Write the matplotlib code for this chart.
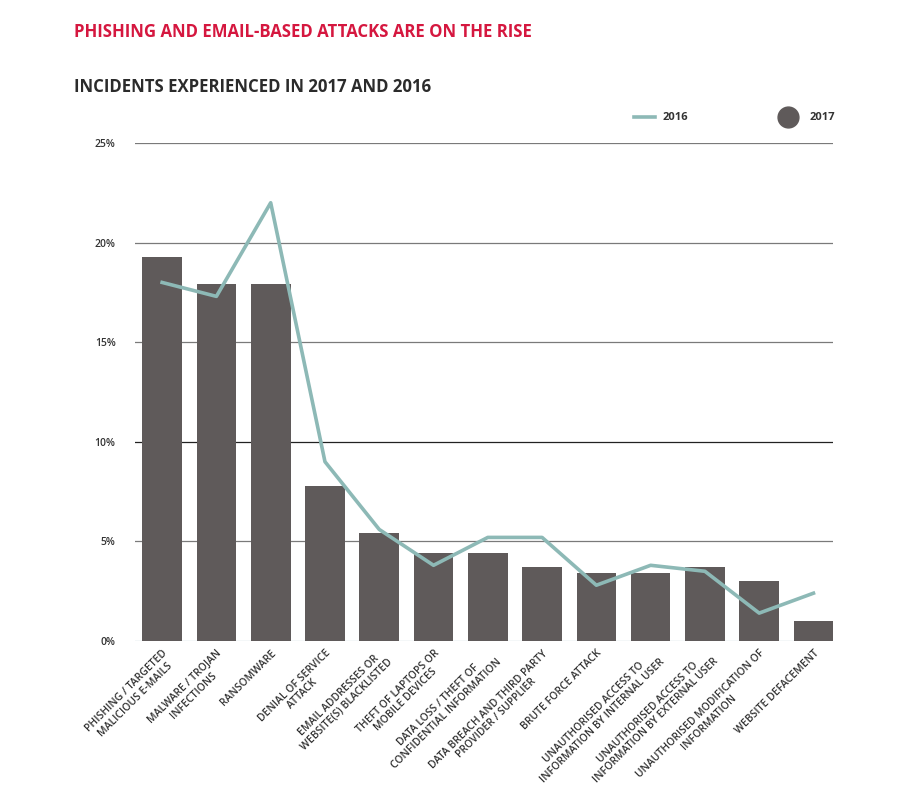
import matplotlib.pyplot as plt
from matplotlib.lines import Line2D

plt.rcParams['font.family'] = ['Open Sans', 'DejaVu Sans']

categories = [
    'PHISHING / TARGETED\nMALICIOUS E-MAILS',
    'MALWARE / TROJAN\nINFECTIONS',
    'RANSOMWARE',
    'DENIAL OF SERVICE\nATTACK',
    'EMAIL ADDRESSES OR\nWEBSITE(S) BLACKLISTED',
    'THEFT OF LAPTOPS OR\nMOBILE DEVICES',
    'DATA LOSS / THEFT OF\nCONFIDENTIAL INFORMATION',
    'DATA BREACH AND THIRD PARTY\nPROVIDER / SUPPLIER',
    'BRUTE FORCE ATTACK',
    'UNAUTHORISED ACCESS TO\nINFORMATION BY INTERNAL USER',
    'UNAUTHORISED ACCESS TO\nINFORMATION BY EXTERNAL USER',
    'UNAUTHORISED MODIFICATION OF\nINFORMATION',
    'WEBSITE DEFACEMENT',
]
values_2017 = [19.3, 17.9, 17.9, 7.8, 5.4, 4.4, 4.4, 3.7, 3.4, 3.4, 3.7, 3.0, 1.0]
values_2016 = [18.0, 17.3, 22.0, 9.0, 5.6, 3.8, 5.2, 5.2, 2.8, 3.8, 3.5, 1.4, 2.4]
y_ticks = [0, 5, 10, 15, 20, 25]

bar_color = '#5f5a5a'
line_color = '#8db9b6'
text_color = '#333333'

fig = plt.figure(figsize=(9.21, 7.99), dpi=100)
ax = fig.add_axes([135 / 921, 158 / 799, 698 / 921, 498 / 799])

x = list(range(len(categories)))
ax.bar(x, values_2017, width=0.73, color=bar_color, zorder=2)
ax.plot(x, values_2016, color=line_color, linewidth=2.6, zorder=3)

# grid lines (bars sit on top of them)
for t in y_ticks:
    col = '#222222' if t == 10 else ('#a9c6cf' if t == 0 else '#7a7a7a')
    ax.axhline(t, color=col, linewidth=0.9, zorder=1)

ax.set_xlim(-0.5, 12.36)
ax.set_ylim(0, 25)
ax.set_yticks(y_ticks)
ax.set_yticklabels([f'{t}%' for t in y_ticks], fontsize=7.5, color=text_color,
                   fontweight='semibold')
ax.tick_params(axis='y', length=0, pad=14)
ax.set_xticks(x)
ax.set_xticklabels(categories, rotation=45, ha='right', va='top',
                   rotation_mode='anchor', multialignment='center',
                   linespacing=1.1, fontsize=7.5, color=text_color,
                   fontweight='semibold')
ax.tick_params(axis='x', length=0, pad=5)
for s in ax.spines.values():
    s.set_visible(False)

fig.text(74 / 921, 1 - 32 / 799, 'PHISHING AND EMAIL-BASED ATTACKS ARE ON THE RISE',
         color='#d5173f', fontsize=12.1, fontweight='bold', va='center')
fig.text(74 / 921, 1 - 87 / 799, 'INCIDENTS EXPERIENCED IN 2017 AND 2016',
         color='#2b2b2b', fontsize=12.1, fontweight='bold', va='center')

# legend drawn manually in figure coords
ly = 1 - 117 / 799
fig.add_artist(Line2D([634 / 921, 655 / 921], [ly, ly], color=line_color,
                      linewidth=2.6, transform=fig.transFigure))
fig.text(663 / 921, ly, '2016', fontsize=8, fontweight='bold',
         color=text_color, va='center')
fig.add_artist(Line2D([788 / 921], [ly], marker='o', markersize=15,
                      color=bar_color, linestyle='none',
                      transform=fig.transFigure))
fig.text(810 / 921, ly, '2017', fontsize=8, fontweight='bold',
         color=text_color, va='center')

fig.savefig('out.png', dpi=100)
